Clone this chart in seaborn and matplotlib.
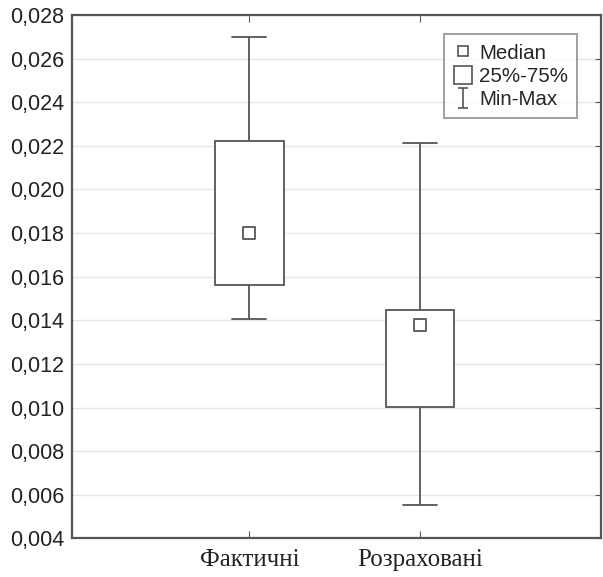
import matplotlib
matplotlib.use("Agg")
import matplotlib.pyplot as plt
from matplotlib.lines import Line2D
from matplotlib.path import Path
import pandas as pd
import seaborn as sns

# -------------------------------------------------------------------
# Data
# -------------------------------------------------------------------

categories = ["Фактичні", "Розраховані"]
mins = [0.01405, 0.00552]
q1s = [0.01562, 0.01002]
medians = [0.01802, 0.01378]
q3s = [0.02220, 0.01447]
maxs = [0.02700, 0.02215]

y_ticks = [0.004, 0.006, 0.008, 0.010, 0.012, 0.014, 0.016,
           0.018, 0.020, 0.022, 0.024, 0.026, 0.028]

# five points per group -> linear percentiles hit q1 / median / q3 exactly
rows = []
for cat, lo, a, m, b, hi in zip(categories, mins, q1s, medians, q3s, maxs):
    for v in (lo, a, m, b, hi):
        rows.append({"group": cat, "value": v})
df = pd.DataFrame(rows)
med_df = pd.DataFrame({"group": categories, "value": medians})

LINE = "#555555"

sns.set_style("white")

fig, ax = plt.subplots(figsize=(6.03, 5.77), dpi=100)
fig.subplots_adjust(left=0.12, right=0.997, top=0.974, bottom=0.067)

sns.boxplot(
    data=df, x="group", y="value", order=categories,
    whis=(0, 100), width=0.4, ax=ax,
    color="white", linecolor=LINE, linewidth=1.3, fill=True,
    medianprops={"linewidth": 0},
    capprops={"linewidth": 1.3},
    showfliers=False,
)
# narrower caps, as in the reference
for line in ax.lines:
    x = line.get_xdata()
    y = line.get_ydata()
    if len(x) == 2 and y[0] == y[1] and (y[0] in mins or y[0] in maxs):
        c = (x[0] + x[1]) / 2
        line.set_xdata([c - 0.1, c + 0.1])

sns.scatterplot(
    data=med_df, x="group", y="value", ax=ax,
    marker="s", s=80, facecolor="white", edgecolor=LINE, linewidth=1.3,
    zorder=5, legend=False,
)

ax.set_xlim(-1.035, 2.058)
ax.set_ylim(0.004, 0.028)
ax.set_yticks(y_ticks)
ax.set_yticklabels([f"{t:.3f}".replace(".", ",") for t in y_ticks],
                   family="Liberation Sans", fontsize=15.5, color="#222222")
ax.set_xticks([0, 1])
ax.set_xticklabels(categories, family="Liberation Serif", fontsize=18,
                   color="#222222")
ax.set_xlabel("")
ax.set_ylabel("")

ax.yaxis.grid(True, color="#e6e6e6", linewidth=1)
ax.set_axisbelow(True)
ax.tick_params(axis="y", which="both", direction="in", left=False, right=True,
               length=4, color=LINE, pad=6)
ax.tick_params(axis="x", direction="in", bottom=True, top=True, length=5,
               color=LINE, pad=8)
for spine in ax.spines.values():
    spine.set_visible(True)
    spine.set_color(LINE)
    spine.set_linewidth(1.6)

ibeam = Path([(-0.5, 1), (0.5, 1), (0, 1), (0, -1), (-0.5, -1), (0.5, -1)],
             [Path.MOVETO, Path.LINETO, Path.MOVETO, Path.LINETO,
              Path.MOVETO, Path.LINETO])
handles = [
    Line2D([], [], marker="s", linestyle="none", markersize=7,
           markerfacecolor="white", markeredgecolor=LINE, markeredgewidth=1.2),
    Line2D([], [], marker="s", linestyle="none", markersize=12.5,
           markerfacecolor="white", markeredgecolor=LINE, markeredgewidth=1.2),
    Line2D([], [], marker=ibeam, linestyle="none", markersize=14.5,
           markerfacecolor="none", markeredgecolor=LINE, markeredgewidth=1.2),
]
leg = ax.legend(handles, ["Median", "25%-75%", "Min-Max"],
                loc="upper right", bbox_to_anchor=(0.955, 0.963),
                prop={"family": "Liberation Sans", "size": 14.8},
                frameon=True, fancybox=False, edgecolor="#888888",
                handlelength=0.95, handletextpad=0.3, labelspacing=0.2,
                borderpad=0.45, borderaxespad=0)
leg.get_frame().set_linewidth(1.4)

fig.savefig("out.png", dpi=100)
